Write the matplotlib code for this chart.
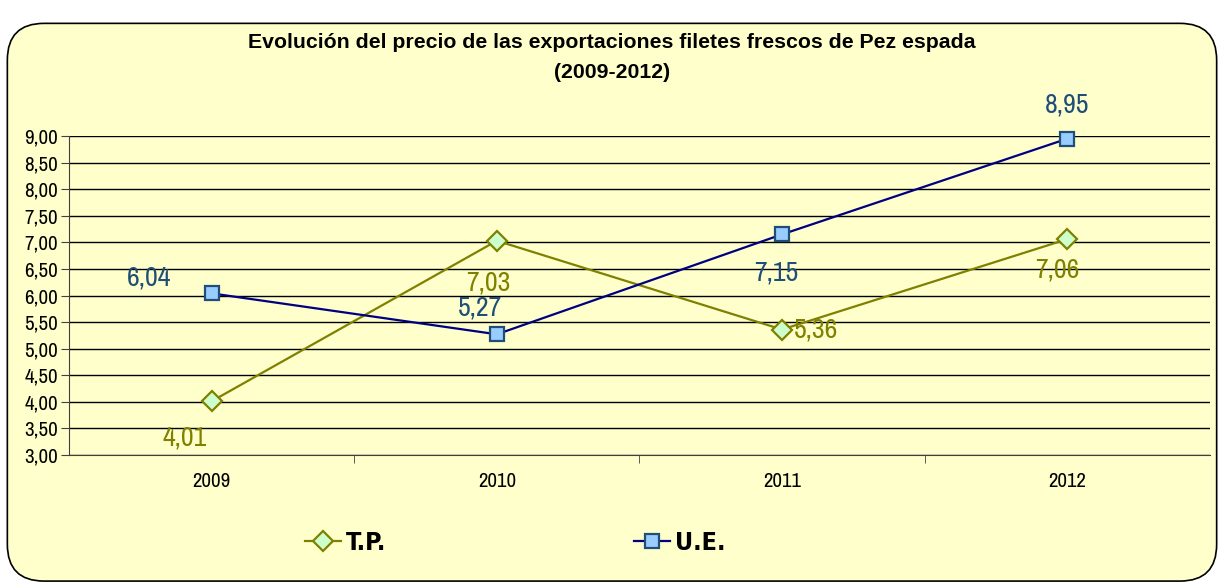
import matplotlib
matplotlib.use("Agg")
import matplotlib.pyplot as plt
from matplotlib.patches import FancyBboxPatch

years = ["2009", "2010", "2011", "2012"]
tp = [4.01, 7.03, 5.36, 7.06]
ue = [6.04, 5.27, 7.15, 8.95]
yticks = [3.0, 3.5, 4.0, 4.5, 5.0, 5.5, 6.0, 6.5, 7.0, 7.5, 8.0, 8.5, 9.0]

plt.rcParams["font.family"] = ["Archivo Narrow", "DejaVu Sans"]

bg = "#FFFFCC"
fig = plt.figure(figsize=(12.24, 5.84), dpi=100)
fig.patch.set_facecolor("white")
frame = FancyBboxPatch((0.006, 0.005), 0.988, 0.955, boxstyle="round,pad=0,rounding_size=0.03",
                       transform=fig.transFigure, facecolor=bg, edgecolor="black", lw=1.2,
                       mutation_aspect=1224 / 584, zorder=-5)
fig.patches.append(frame)

ax = fig.add_axes([0.0564, 0.221, 0.932, 0.546])
ax.set_facecolor(bg)
x = list(range(len(years)))

ax.plot(x, tp, color="#808000", lw=1.6, marker="D", ms=10, mfc="#CCFFCC", mec="#808000", mew=1.6,
        label="T.P.", zorder=3, clip_on=False)
ax.plot(x, ue, color="#000080", lw=1.6, marker="s", ms=10, mfc="#99CCFF", mec="#1F4E79", mew=1.6,
        label="U.E.", zorder=3, clip_on=False)

ax.set_xlim(-0.5, 3.5)
ax.set_ylim(3.0, 9.0)
ax.set_yticks(yticks)
ax.set_yticklabels([f"{v:.2f}".replace(".", ",") for v in yticks], fontsize=15)
ax.set_xticks(x)
ax.set_xticklabels(years, fontsize=15)
ax.tick_params(axis="x", length=0, pad=12)
ax.set_xticks([0.5, 1.5, 2.5], minor=True)
ax.tick_params(axis="x", which="minor", length=6, direction="out", color="#404040")
ax.tick_params(axis="y", length=6, direction="out", color="#404040", pad=2)
ax.grid(axis="y", color="black", lw=1.0)
ax.set_axisbelow(True)
for s in ["top", "right"]:
    ax.spines[s].set_visible(False)
ax.spines["left"].set_color("#404040")
ax.spines["bottom"].set_color("#404040")

ue_off = [(-0.22, 0.29), (-0.06, 0.50), (-0.02, -0.73), (0.0, 0.63)]
tp_off = [(-0.095, -0.69), (-0.03, -0.79), (0.12, 0.0), (-0.035, -0.58)]
for i in x:
    ax.text(i + ue_off[i][0], ue[i] + ue_off[i][1], f"{ue[i]:.2f}".replace(".", ","),
            color="#1F4E79", fontsize=20, ha="center", va="center")
    ax.text(i + tp_off[i][0], tp[i] + tp_off[i][1], f"{tp[i]:.2f}".replace(".", ","),
            color="#808000", fontsize=20, ha="center", va="center")

fig.text(0.5, 0.928, "Evolución del precio de las exportaciones filetes frescos de Pez espada",
         ha="center", va="center", fontsize=15.3, fontweight="bold",
         family=["Liberation Sans", "DejaVu Sans"])
fig.text(0.5, 0.876, "(2009-2012)", ha="center", va="center", fontsize=15.3, fontweight="bold",
         family=["Liberation Sans", "DejaVu Sans"])

h, l = ax.get_legend_handles_labels()
leg = fig.legend(h, l, loc="center", bbox_to_anchor=(0.421, 0.07), ncol=2, frameon=False,
                 prop={"family": "DejaVu Sans", "size": 18, "weight": "bold", "stretch": "condensed"},
                 columnspacing=9.9, handlelength=1.44, handletextpad=0.2)

fig.savefig("out.png", dpi=100, facecolor="white")
